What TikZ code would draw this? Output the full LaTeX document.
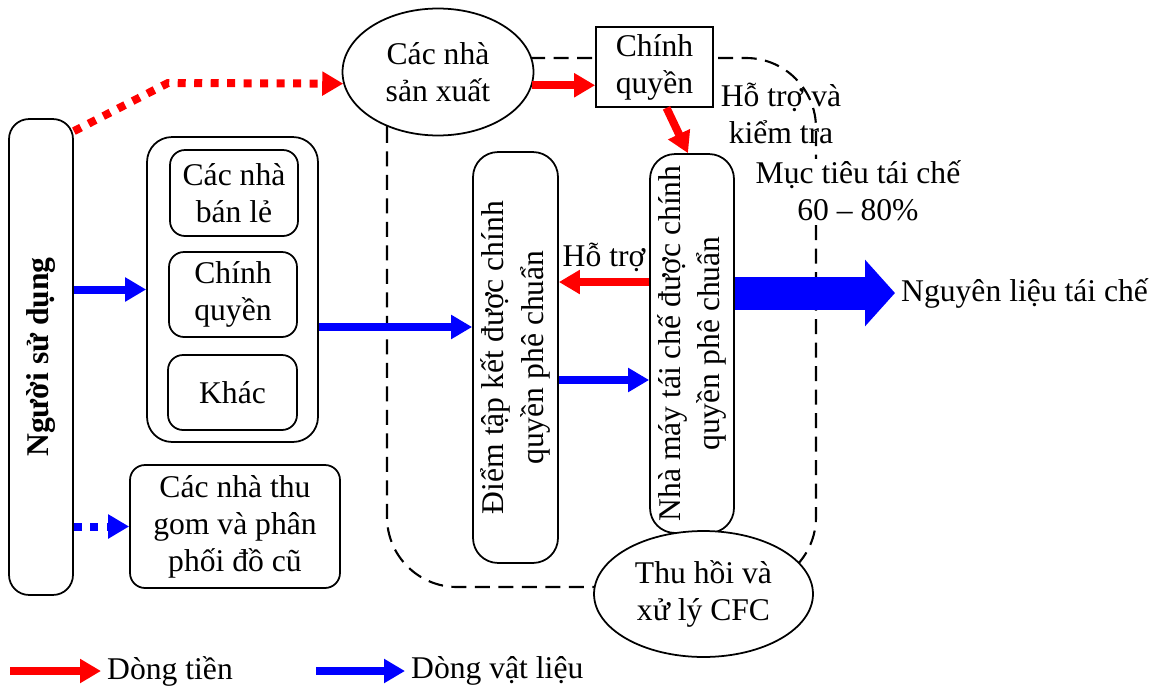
\documentclass[tikz,border=0pt]{standalone}
\usepackage{fontspec}
\setmainfont{Liberation Serif}
\usetikzlibrary{arrows.meta,shapes.geometric}

\begin{document}
\begin{tikzpicture}[x=0.02cm,y=-0.02cm,
        every node/.style={font=\fontsize{18}{21}\selectfont,align=center},
        box/.style={draw,line width=1pt,rounded corners=0.3cm,inner sep=0pt},
        oval/.style={draw,line width=1pt,ellipse,fill=white,inner sep=0pt},
        money/.style={red,line width=0.16cm,-{Triangle[length=0.42cm,width=0.46cm]}},
        material/.style={blue,line width=0.16cm,-{Triangle[length=0.42cm,width=0.46cm]}},
        dots/.style={dash pattern=on 0.16cm off 0.17cm},
        border/.style={line width=1.2pt,dash pattern=on 0.3cm off 0.17cm,rounded corners=1.4cm}]
        \useasboundingbox (0,0) rectangle (1166,690);
        \draw[border] (387,58) rectangle (816,587);

        \node[box,rounded corners=0.4cm,minimum width=1.28cm,minimum height=9.52cm] (user) at (41,357) {};
        \node[rotate=90] at (user) {\bfseries Người sử dụng};
        \node[box,rounded corners=0.5cm,minimum width=3.42cm,minimum height=6.1cm] (group) at (232.5,289.5) {};
        \node[box,minimum width=2.56cm,minimum height=1.72cm] (retail) at (234,193) {Các nhà\\bán lẻ};
        \node[box,minimum width=2.56cm,minimum height=1.7cm] (localgov) at (233,294.5) {Chính\\quyền};
        \node[box,minimum width=2.58cm,minimum height=1.5cm] (other) at (232.5,392.5) {Khác};
        \node[box,minimum width=4.2cm,minimum height=2.46cm] (used) at (235,526.5) {Các nhà thu\\gom và phân\\phối đồ cũ};

        \node[oval,minimum width=3.82cm,minimum height=2.54cm] (producer) at (438,72) {Các nhà\\sản xuất};
        \node[draw,line width=1pt,fill=white,minimum width=2.34cm,minimum height=1.6cm,inner sep=0pt] (gov) at (654.5,67) {Chính\\quyền};
        \node[box,rounded corners=0.5cm,minimum width=1.7cm,minimum height=8.22cm] (collect) at (515.5,357.5) {};
        \node[rotate=90,font=\fontsize{18}{22.5}\selectfont] at (collect) {Điểm tập kết được chính\\quyền phê chuẩn};
        \node[box,rounded corners=0.5cm,minimum width=1.68cm,minimum height=7.58cm] (plant) at (692,343.5) {};
        \node[rotate=90,font=\fontsize{18}{22.5}\selectfont] at (plant) {Nhà máy tái chế được chính\\quyền phê chuẩn};
        \node[oval,minimum width=4.38cm,minimum height=2.52cm] (cfc) at (703.5,594) {Thu hồi và\\xử lý CFC};

        \node (support) at (781,113) {Hỗ trợ và\\kiểm tra};
        \node[fill=white,inner sep=1pt] (target) at (858,191) {Mục tiêu tái chế\\60 -- 80\%};
        \node[anchor=west] (output) at (895,293) {Nguyên liệu tái chế};

        \draw[money,dots] ([yshift=-0.26cm]user.north east) -- (168,83) -- (producer.187);
        \draw[money] (producer.352) -- (producer.352 -| gov.west);
        \draw[money] ([xshift=0.24cm]gov.south) -- ([xshift=-0.08cm]plant.north);
        \coordinate (back) at ([yshift=1.23cm]plant.west);
        \draw[money] (back) -- (back -| collect.east) node[midway,above,text=black] {Hỗ trợ};

        \draw[material] (user.east |- group.west) -- (group.west);
        \draw[material,dots] (user.east |- used.west) -- (used.west);
        \coordinate (g2c) at ([yshift=-0.75cm]group.east);
        \draw[material] (g2c) -- (g2c -| collect.west);
        \coordinate (c2p) at ([yshift=-0.45cm]collect.east);
        \draw[material] (c2p) -- (c2p -| plant.west);
        \draw[blue,line width=0.66cm,-{Triangle[length=0.6cm,width=1.3cm]}] (plant.east |- output.west) -- (output.west);

        \coordinate (lgm) at (10,671);
        \node[anchor=west] (lgmoney) at (101,671) {Dòng tiền};
        \draw[money] (lgm) -- (lgmoney.west);
        \coordinate (lgv) at (316,671);
        \node[anchor=west] (lgmaterial) at (405,671) {Dòng vật liệu};
        \draw[material] (lgv) -- (lgmaterial.west);
\end{tikzpicture}
\end{document}
